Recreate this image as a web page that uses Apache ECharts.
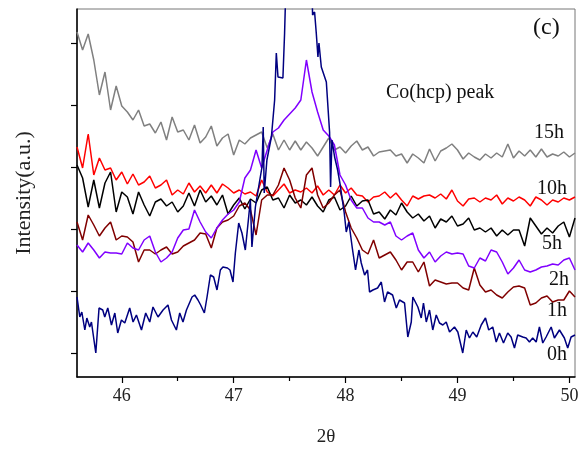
<!DOCTYPE html>
<html>
<head>
<meta charset="utf-8">
<script src="https://cdn.jsdelivr.net/npm/echarts@6/dist/echarts.min.js"></script>
<style>
  html, body { margin: 0; padding: 0; background: #fff; }
  #xrd { width: 582px; height: 452px; }
</style>
</head>
<body>
<div id="xrd"></div>
<script>
// 2θ sampling shared by the milled samples
var theta = [45.60,45.65,45.70,45.75,45.80,45.85,45.90,45.95,46.00,46.05,
  46.10,46.15,46.20,46.25,46.30,46.35,46.40,46.45,46.50,46.55,
  46.60,46.65,46.70,46.75,46.80,46.85,46.90,46.95,47.00,47.05,
  47.10,47.15,47.20,47.25,47.30,47.35,47.40,47.45,47.50,47.55,
  47.60,47.65,47.70,47.75,47.80,47.85,47.90,47.95,48.00,48.05,
  48.10,48.15,48.20,48.25,48.30,48.35,48.40,48.45,48.50,48.55,
  48.60,48.65,48.70,48.75,48.80,48.85,48.90,48.95,49.00,49.05,
  49.10,49.15,49.20,49.25,49.30,49.35,49.40,49.45,49.50,49.55,
  49.60,49.65,49.70,49.75,49.80,49.85,49.90,49.95,50.00,50.05];

var int15h = [345,327,343,317,282,305,267,291,271,265, 257,267,251,253,244,255,237,260,245,247,
  237,252,234,240,251,231,239,243,222,237, 233,239,242,245,229,243,227,237,227,236,
  227,235,229,221,230,239,227,230,224,231, 236,227,230,221,225,226,227,221,223,214,
  223,219,214,228,216,226,229,233,227,218, 224,220,217,223,219,224,220,233,219,226,
  221,227,220,228,220,223,221,225,220,224];

var int10h = [230,209,243,202,219,207,209,197,205,193, 203,192,195,201,189,192,197,182,187,183,
  194,185,191,184,192,184,193,189,184,187, 183,185,181,197,185,181,187,193,184,187,
  185,189,184,191,182,187,182,192,184,189, 182,181,175,180,181,185,179,184,177,171,
  181,178,181,182,179,183,178,187,176,171, 178,179,175,179,177,182,173,179,176,180,
  177,171,180,177,172,177,175,179,177,180];

var int5h = [212,199,170,197,169,194,205,165,185,180, 163,185,172,161,175,178,171,175,165,171,
  184,171,187,175,181,172,182,163,172,179, 168,178,174,187,190,177,179,169,182,174,
  177,172,180,171,165,177,180,167,171,181, 171,176,177,163,165,158,167,162,174,165,
  159,163,156,161,149,158,155,161,151,153, 159,147,149,145,149,141,147,142,147,147,
  131,159,151,143,149,144,151,155,140,159];

var int2h = [132,125,134,127,119,125,124,124,123,134, 129,127,137,141,125,115,119,125,139,147,
  148,167,155,145,139,149,157,163,167,175, 199,207,227,209,227,245,249,257,263,269,
  277,317,285,265,247,241,232,202,192,177, 169,169,159,155,155,152,155,141,137,141,
  144,127,119,125,115,121,125,123,124,123, 111,109,119,116,127,125,115,103,109,117,
  107,105,107,110,111,113,112,117,119,107];

var int1h = [155,137,162,152,141,149,155,137,141,140, 135,115,127,127,123,127,130,123,125,131,
  134,137,144,143,129,149,155,157,161,171, 174,167,142,177,182,182,192,209,197,179,
  169,202,209,182,169,174,182,187,165,149, 139,127,123,137,119,122,125,117,107,115,
  115,105,115,91,97,95,93,94,94,89, 87,109,92,85,87,82,79,85,90,91,
  89,72,74,79,81,75,77,77,86,80];

// the unmilled sample was scanned more finely round the peak
var theta0h = [45.600,45.625,45.643,45.670,45.688,45.714,45.729,45.768,45.797,45.830,
  45.848,45.875,45.908,45.938,45.964,45.997,46.027,46.071,46.101,46.131,
  46.176,46.214,46.250,46.279,46.324,46.369,46.413,46.444,46.488,46.518,
  46.547,46.578,46.628,46.652,46.681,46.705,46.738,46.762,46.792,46.821,
  46.851,46.881,46.904,46.944,46.967,46.994,47.015,47.045,47.074,47.104,
  47.134,47.149,47.163,47.194,47.223,47.253,47.264,47.273,47.297,47.337,
  47.366,47.381,47.396,47.440,47.455,47.473,47.694,47.705,47.723,47.738,
  47.753,47.762,47.783,47.828,47.857,47.866,47.878,47.902,47.929,47.955,
  47.967,47.988,48.006,48.029,48.060,48.089,48.119,48.140,48.170,48.196,
  48.214,48.244,48.286,48.319,48.348,48.375,48.420,48.453,48.482,48.527,
  48.556,48.587,48.601,48.646,48.676,48.696,48.721,48.750,48.779,48.810,
  48.839,48.869,48.899,48.929,48.973,49.003,49.047,49.078,49.107,49.137,
  49.172,49.212,49.250,49.279,49.315,49.346,49.375,49.411,49.449,49.479,
  49.509,49.538,49.583,49.613,49.643,49.672,49.703,49.732,49.762,49.792,
  49.837,49.866,49.911,49.955,49.985,50.015,50.050];

var int0h = [80,60,65,47,59,50,55,24,69,67,
  60,69,52,64,44,57,54,69,55,62,
  47,64,55,70,60,67,72,57,47,64,
  55,67,80,82,77,72,64,80,102,100,
  87,107,110,109,107,95,124,154,144,127,
  160,177,130,170,190,210,250,184,217,240,
  277,324,300,299,344,417,417,362,365,344,
  320,334,310,295,245,190,237,220,207,190,
  180,164,145,155,129,107,127,114,102,107,
  85,87,89,95,75,85,82,69,77,74,
  40,55,80,70,59,74,55,67,47,62,
  54,52,55,45,50,45,24,47,39,45,
  40,52,59,47,50,35,44,34,44,40,
  29,42,40,39,35,39,35,50,34,40,
  50,39,47,39,29,40,42];

var xTicks = [46, 47, 48, 49, 50];
var xMinorTicks = [46.5, 47.5, 48.5, 49.5];
var yTicks = [24, 86, 148, 210, 272, 334];

var serif = "'Liberation Serif', 'Times New Roman', serif";

function pairs(xs, ys) {
  return xs.map(function (x, i) { return [x, ys[i]]; });
}

function curve(name, xs, ys, color) {
  return {
    name: name,
    type: 'line',
    xAxisIndex: 0,
    data: pairs(xs, ys),
    symbol: 'none',
    clip: true,
    lineStyle: { color: color, width: 1.5 },
    z: 3
  };
}

function tag(text, left, top) {
  return {
    type: 'text', left: left, top: top,
    style: { text: text, font: '20px ' + serif, fill: '#111' }
  };
}

var chart = echarts.init(document.getElementById('xrd'));
chart.setOption({
  backgroundColor: '#fff',
  animation: false,
  grid: {
    show: true,
    left: 77, right: 7, top: 9, bottom: 75,
    borderColor: '#777',
    borderWidth: 1
  },
  xAxis: [{
    type: 'value',
    min: 45.6, max: 50.05,
    name: '2θ',
    nameLocation: 'middle',
    nameGap: 51,
    nameTextStyle: { fontFamily: serif, fontSize: 19, color: '#222' },
    axisLine: { show: true, lineStyle: { color: '#000', width: 1.5 } },
    axisTick: { show: true, inside: false, length: 6, customValues: xTicks, lineStyle: { color: '#000', width: 1.2 } },
    axisLabel: { customValues: xTicks, margin: 10, fontFamily: serif, fontSize: 18, color: '#222' },
    splitLine: { show: false }
  }, {
    type: 'value',
    min: 45.6, max: 50.05,
    position: 'bottom',
    axisLine: { show: false },
    axisTick: { show: true, length: 4, customValues: xMinorTicks, lineStyle: { color: '#000', width: 1.2 } },
    axisLabel: { show: false },
    splitLine: { show: false }
  }],
  yAxis: {
    type: 'value',
    min: 0, max: 368,
    name: 'Intensity(a.u.)',
    nameLocation: 'middle',
    nameGap: 42,
    nameTextStyle: { fontFamily: serif, fontSize: 22, color: '#222' },
    axisLine: { show: true, lineStyle: { color: '#000', width: 1.5 } },
    axisTick: { show: true, length: 6, customValues: yTicks, lineStyle: { color: '#000', width: 1.2 } },
    axisLabel: { show: false },
    splitLine: { show: false }
  },
  graphic: [
    { type: 'text', left: 533, top: 16, style: { text: '(c)', font: '24px ' + serif, fill: '#111' } },
    tag('Co(hcp) peak', 386, 83),
    tag('15h', 534, 123),
    tag('10h', 537, 179),
    tag('5h', 542, 234),
    tag('2h', 549, 270),
    tag('1h', 547, 301),
    tag('0h', 547, 345)
  ],
  series: [
    curve('15h', theta, int15h, '#808080'),
    curve('10h', theta, int10h, '#ff0000'),
    curve('5h', theta, int5h, '#000000'),
    curve('1h', theta, int1h, '#800000'),
    curve('2h', theta, int2h, '#8000ff'),
    curve('0h', theta0h, int0h, '#000080')
  ]
});
</script>
</body>
</html>
